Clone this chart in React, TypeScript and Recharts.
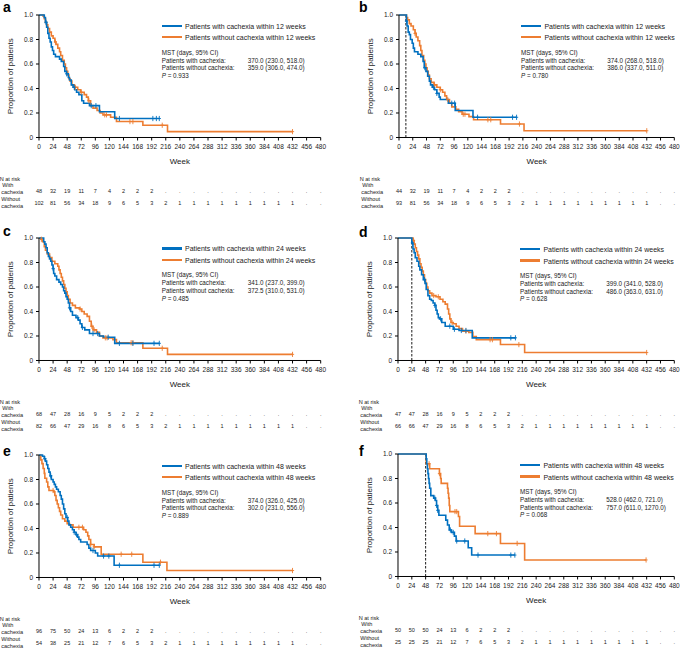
import React from "react";
import { ComposedChart, Line, Scatter, XAxis, YAxis, ReferenceLine } from "recharts";

type Pt = [number, number];

const BLUE = "#0070C0";
const ORANGE = "#ED7D31";
const FONT = '"Liberation Sans", Arial, Helvetica, sans-serif';
const INK = "#1a1a1a";

const weekTicks = [0, 24, 48, 72, 96, 120, 144, 168, 192, 216, 240, 264, 288, 312, 336, 360, 384, 408, 432, 456, 480];
const propTicks = [0, 0.2, 0.4, 0.6, 0.8, 1];

// ---- panel a : 12 weeks, all patients
const aWith: Pt[] = [[0, 1], [9, 0.98], [11, 0.94], [13, 0.9], [15, 0.85], [17, 0.81], [19, 0.78], [21, 0.74], [23, 0.71], [25, 0.68], [28, 0.66], [35, 0.64], [38, 0.62], [42, 0.58], [44, 0.54], [47, 0.52], [50, 0.49], [52, 0.47], [55, 0.43], [58, 0.41], [61, 0.39], [64, 0.37], [68, 0.35], [73, 0.3], [76, 0.28], [86, 0.26], [103, 0.21], [129, 0.155]];
const aWithCens = [12, 47, 60, 89, 97, 137, 194, 200, 205];
const aWithout: Pt[] = [[0, 1], [7, 0.99], [9, 0.97], [11, 0.94], [13, 0.92], [15, 0.89], [18, 0.86], [21, 0.83], [24, 0.81], [27, 0.78], [29, 0.76], [32, 0.73], [35, 0.7], [37, 0.67], [40, 0.63], [43, 0.6], [45, 0.57], [47, 0.54], [49, 0.51], [51, 0.48], [53, 0.46], [56, 0.43], [60, 0.41], [66, 0.39], [71, 0.37], [77, 0.35], [81, 0.33], [84, 0.3], [88, 0.26], [92, 0.24], [99, 0.22], [104, 0.2], [109, 0.185], [122, 0.165], [132, 0.13], [177, 0.1], [219, 0.048]];
const aWithoutCens = [28, 62, 72, 85, 112, 115, 155, 160, 210, 432];
const aRiskWith = [48, 32, 19, 11, 7, 4, 2, 2, 2];
const aRiskWithout = [102, 81, 56, 34, 18, 9, 6, 5, 3, 2, 1, 1, 1, 1, 1, 1, 1, 1, 1];

// ---- panel b : 12 weeks, landmark
const bWith: Pt[] = [[0, 1], [13, 0.95], [14, 0.91], [16, 0.86], [18, 0.84], [20, 0.8], [23, 0.77], [25, 0.73], [27, 0.7], [33, 0.68], [38, 0.66], [42, 0.62], [44, 0.57], [47, 0.54], [50, 0.5], [53, 0.46], [55, 0.43], [58, 0.41], [62, 0.39], [66, 0.36], [70, 0.33], [72, 0.31], [86, 0.28], [98, 0.22], [129, 0.165]];
const bWithCens = [13, 45, 60, 66, 92, 97, 137, 198, 205];
const bWithout: Pt[] = [[0, 1], [13, 0.98], [15, 0.96], [18, 0.93], [21, 0.91], [25, 0.88], [28, 0.85], [30, 0.82], [33, 0.79], [36, 0.75], [38, 0.71], [40, 0.67], [43, 0.63], [45, 0.6], [47, 0.57], [49, 0.54], [51, 0.51], [53, 0.48], [56, 0.45], [61, 0.43], [66, 0.41], [72, 0.39], [76, 0.37], [80, 0.34], [83, 0.31], [88, 0.28], [92, 0.25], [99, 0.23], [104, 0.21], [110, 0.19], [122, 0.17], [130, 0.145], [177, 0.11], [218, 0.055]];
const bWithoutCens = [28, 62, 72, 85, 112, 115, 155, 160, 210, 432];
const bRiskWith = [44, 32, 19, 11, 7, 4, 2, 2, 2];
const bRiskWithout = [93, 81, 56, 34, 18, 9, 6, 5, 3, 2, 1, 1, 1, 1, 1, 1, 1, 1, 1];

// ---- panel c : 24 weeks, all patients
const cWith: Pt[] = [[0, 1], [8, 0.97], [10, 0.95], [12, 0.92], [14, 0.88], [16, 0.85], [18, 0.83], [20, 0.81], [22, 0.78], [24, 0.75], [25, 0.71], [27, 0.69], [30, 0.66], [34, 0.64], [37, 0.62], [40, 0.6], [42, 0.57], [44, 0.55], [46, 0.52], [48, 0.5], [50, 0.47], [52, 0.43], [54, 0.4], [57, 0.37], [63, 0.35], [67, 0.33], [70, 0.3], [73, 0.27], [78, 0.25], [86, 0.22], [103, 0.2], [110, 0.19], [129, 0.14]];
const cWithCens = [24, 52, 66, 74, 92, 100, 118, 137, 160, 196, 205];
const cWithout: Pt[] = [[0, 1], [3, 0.99], [6, 0.97], [9, 0.93], [11, 0.9], [14, 0.87], [18, 0.84], [22, 0.81], [27, 0.79], [32, 0.77], [34, 0.74], [36, 0.71], [38, 0.68], [40, 0.65], [42, 0.62], [44, 0.59], [46, 0.56], [48, 0.53], [50, 0.5], [53, 0.47], [57, 0.45], [62, 0.43], [69, 0.42], [73, 0.4], [77, 0.38], [82, 0.36], [86, 0.32], [89, 0.28], [92, 0.25], [98, 0.23], [103, 0.2], [109, 0.185], [126, 0.17], [132, 0.145], [177, 0.1], [219, 0.05]];
const cWithoutCens = [4, 70, 90, 94, 113, 116, 157, 160, 210, 432];
const cRiskWith = [68, 47, 28, 16, 9, 5, 2, 2, 2];
const cRiskWithout = [82, 66, 47, 29, 16, 8, 6, 5, 3, 2, 1, 1, 1, 1, 1, 1, 1, 1, 1];

// ---- panel d : 24 weeks, landmark
const dWith: Pt[] = [[0, 1], [24, 0.96], [26, 0.91], [28, 0.88], [30, 0.84], [33, 0.81], [36, 0.77], [38, 0.74], [41, 0.7], [44, 0.66], [47, 0.63], [49, 0.58], [52, 0.53], [55, 0.5], [58, 0.49], [61, 0.47], [64, 0.45], [66, 0.41], [68, 0.38], [70, 0.35], [72, 0.34], [76, 0.31], [82, 0.28], [96, 0.255], [106, 0.245], [129, 0.185]];
const dWithCens = [25, 46, 64, 74, 90, 98, 110, 118, 196, 204];
const dWithout: Pt[] = [[0, 1], [26, 0.98], [28, 0.95], [30, 0.92], [32, 0.89], [34, 0.86], [36, 0.83], [38, 0.79], [40, 0.76], [42, 0.73], [44, 0.7], [46, 0.66], [48, 0.63], [50, 0.6], [52, 0.57], [55, 0.55], [59, 0.53], [66, 0.52], [73, 0.5], [78, 0.48], [82, 0.46], [86, 0.42], [88, 0.38], [90, 0.34], [92, 0.31], [96, 0.3], [101, 0.28], [106, 0.26], [112, 0.24], [123, 0.23], [130, 0.195], [136, 0.17], [178, 0.13], [220, 0.065]];
const dWithoutCens = [27, 62, 70, 94, 118, 160, 164, 210, 432];
const dRiskWith = [47, 47, 28, 16, 9, 5, 2, 2, 2];
const dRiskWithout = [66, 66, 47, 29, 16, 8, 6, 5, 3, 2, 1, 1, 1, 1, 1, 1, 1, 1, 1];

// ---- panel e : 48 weeks, all patients
const eWith: Pt[] = [[0, 1], [6, 0.99], [9, 0.97], [11, 0.95], [13, 0.92], [15, 0.89], [17, 0.86], [19, 0.83], [21, 0.8], [24, 0.78], [26, 0.76], [28, 0.74], [30, 0.72], [33, 0.7], [36, 0.67], [38, 0.64], [40, 0.6], [42, 0.56], [44, 0.52], [46, 0.49], [49, 0.46], [51, 0.43], [54, 0.41], [57, 0.39], [60, 0.37], [63, 0.35], [66, 0.33], [68, 0.31], [71, 0.29], [82, 0.27], [85, 0.24], [88, 0.22], [96, 0.2], [100, 0.175], [128, 0.1]];
const eWithCens = [10, 20, 48, 60, 64, 92, 110, 119, 137, 196, 205];
const eWithout: Pt[] = [[0, 1], [3, 0.96], [5, 0.93], [7, 0.89], [9, 0.85], [10, 0.81], [13, 0.78], [15, 0.74], [17, 0.71], [25, 0.7], [27, 0.67], [29, 0.63], [31, 0.6], [33, 0.57], [35, 0.54], [37, 0.51], [40, 0.48], [44, 0.46], [48, 0.44], [52, 0.43], [58, 0.41], [76, 0.39], [80, 0.37], [83, 0.34], [85, 0.31], [88, 0.27], [94, 0.25], [106, 0.19], [177, 0.125], [218, 0.057]];
const eWithoutCens = [24, 68, 74, 88, 94, 140, 158, 207, 432];
const eRiskWith = [96, 75, 50, 24, 13, 6, 2, 2, 2];
const eRiskWithout = [54, 38, 25, 21, 12, 7, 6, 5, 3, 2, 1, 1, 1, 1, 1, 1, 1, 1, 1];

// ---- panel f : 48 weeks, landmark
const fWith: Pt[] = [[0, 1], [49, 0.96], [50, 0.92], [51, 0.88], [52, 0.84], [53, 0.8], [54, 0.76], [55, 0.72], [57, 0.66], [62, 0.64], [65, 0.62], [67, 0.58], [69, 0.54], [71, 0.5], [83, 0.46], [86, 0.42], [89, 0.38], [93, 0.36], [98, 0.33], [101, 0.29], [122, 0.235], [128, 0.175]];
const fWithCens = [64, 67, 69, 91, 96, 102, 116, 139, 196, 203];
const fWithout: Pt[] = [[0, 1], [49, 0.92], [55, 0.88], [72, 0.84], [74, 0.8], [75, 0.76], [86, 0.72], [87, 0.68], [88, 0.64], [89, 0.58], [90, 0.53], [105, 0.49], [107, 0.41], [134, 0.35], [178, 0.27], [220, 0.135]];
const fWithoutCens = [54, 72, 99, 102, 156, 171, 207, 431];
const fRiskWith = [50, 50, 50, 24, 13, 6, 2, 2, 2];
const fRiskWithout = [25, 25, 25, 21, 12, 7, 6, 5, 3, 2, 1, 1, 1, 1, 1, 1, 1, 1, 1];

const mstWith = ["370.0 (230.0, 518.0)", "374.0 (268.0, 518.0)", "341.0 (237.0, 399.0)", "399.0 (341.0, 528.0)", "374.0 (326.0, 425.0)", "528.0 (462.0, 721.0)"];
const mstWithout = ["359.0 (306.0, 474.0)", "386.0 (337.0, 511.0)", "372.5 (310.0, 531.0)", "486.0 (363.0, 631.0)", "302.0 (231.0, 556.0)", "757.0 (611.0, 1270.0)"];
const pValues = ["0.933", "0.780", "0.485", "0.628", "0.889", "0.068"];

const PLOT_H = 122.5;

function stepData(pts: Pt[], cens: number[]) {
  const out = pts.map(([t, s]) => ({ t, s }));
  const last = pts[pts.length - 1];
  out.push({ t: Math.max(last[0], ...cens), s: last[1] });
  return out;
}

function censData(pts: Pt[], cens: number[]) {
  return cens.map((t) => {
    let s = 1;
    for (const [pt, ps] of pts) if (pt <= t) s = ps;
    return { t, s };
  });
}

const censorShape = (color: string) => (p: any) => (
  <g>
    <line x1={p.cx} x2={p.cx} y1={p.cy - 2.6} y2={p.cy + 2.6} stroke={color} strokeWidth={0.9} />
    <line x1={p.cx - 1.6} x2={p.cx + 1.6} y1={p.cy} y2={p.cy} stroke={color} strokeWidth={0.9} />
  </g>
);

function WeekTick(props: any) {
  const { x, y, payload, riskWith, riskWithout } = props;
  const axisY = y - 5;
  const i = Math.round(payload.value / 24);
  const r1 = riskWith[i] !== undefined ? String(riskWith[i]) : ".";
  const r2 = riskWithout[i] !== undefined ? String(riskWithout[i]) : ".";
  const lab = { fontSize: 5.6, fill: INK };
  return (
    <g>
      <text x={x} y={axisY + 9} dy="0.35em" textAnchor="middle" fontSize={6.5} fill={INK}>
        {payload.value}
      </text>
      <text x={x} y={axisY + 53.5} dy="0.35em" textAnchor="middle" fontSize={5.5} fill={INK}>{r1}</text>
      <text x={x} y={axisY + 65.5} dy="0.35em" textAnchor="middle" fontSize={5.5} fill={INK}>{r2}</text>
      {payload.value === 0 && (
        <g {...lab}>
          <text x={x - 39.3} y={axisY + 41.5} dy="0.35em">N at risk</text>
          <text x={x - 36.8} y={axisY + 47.5} dy="0.35em">With</text>
          <text x={x - 37.8} y={axisY + 55} dy="0.35em">cachexia</text>
          <text x={x - 37.8} y={axisY + 61.5} dy="0.35em">Without</text>
          <text x={x - 37.8} y={axisY + 68.5} dy="0.35em">cachexia</text>
        </g>
      )}
    </g>
  );
}

interface PanelCfg {
  letter: string;
  lx: number;
  ly: number;
  left: number;
  top: number;
  w: number;
  landmark: number | null;
  weeks: number;
  withPts: Pt[];
  withCens: number[];
  withoutPts: Pt[];
  withoutCens: number[];
  riskWith: number[];
  riskWithout: number[];
  idx: number;
}

const panels: PanelCfg[] = [
  { letter: "a", lx: 3, ly: 0, left: 39.3, top: 15, w: 281.7, landmark: null, weeks: 12, withPts: aWith, withCens: aWithCens, withoutPts: aWithout, withoutCens: aWithoutCens, riskWith: aRiskWith, riskWithout: aRiskWithout, idx: 0 },
  { letter: "b", lx: 359, ly: 0, left: 398.7, top: 15, w: 275.3, landmark: 12, weeks: 12, withPts: bWith, withCens: bWithCens, withoutPts: bWithout, withoutCens: bWithoutCens, riskWith: bRiskWith, riskWithout: bRiskWithout, idx: 1 },
  { letter: "c", lx: 3, ly: 224, left: 39.3, top: 237.7, w: 281.7, landmark: null, weeks: 24, withPts: cWith, withCens: cWithCens, withoutPts: cWithout, withoutCens: cWithoutCens, riskWith: cRiskWith, riskWithout: cRiskWithout, idx: 2 },
  { letter: "d", lx: 359, ly: 224.5, left: 397.7, top: 238.3, w: 276.3, landmark: 24, weeks: 24, withPts: dWith, withCens: dWithCens, withoutPts: dWithout, withoutCens: dWithoutCens, riskWith: dRiskWith, riskWithout: dRiskWithout, idx: 3 },
  { letter: "e", lx: 3, ly: 444, left: 39.3, top: 455, w: 281.7, landmark: null, weeks: 48, withPts: eWith, withCens: eWithCens, withoutPts: eWithout, withoutCens: eWithoutCens, riskWith: eRiskWith, riskWithout: eRiskWithout, idx: 4 },
  { letter: "f", lx: 359, ly: 443.5, left: 397.7, top: 454.3, w: 276.3, landmark: 48, weeks: 48, withPts: fWith, withCens: fWithCens, withoutPts: fWithout, withoutCens: fWithoutCens, riskWith: fRiskWith, riskWithout: fRiskWithout, idx: 5 },
];

function TextRow({ x, y, size, children, style }: any) {
  return (
    <div style={{ position: "absolute", left: x, top: y, transform: "translateY(-50%)", fontSize: size, lineHeight: 1, whiteSpace: "nowrap", color: INK, ...style }}>
      {children}
    </div>
  );
}

function Panel({ cfg }: { cfg: PanelCfg }) {
  const W = 42 + cfg.w + 10;
  const H = 8 + PLOT_H + 75;
  const L = cfg.left;
  const T = cfg.top;
  return (
    <>
      <div style={{ position: "absolute", left: L - 42, top: T - 8 }}>
        <ComposedChart width={W} height={H} margin={{ top: 8, right: 10, bottom: 0, left: 0 }}>
          <XAxis
            type="number"
            dataKey="t"
            domain={[0, 480]}
            ticks={weekTicks}
            interval={0}
            height={75}
            tickSize={3}
            tickMargin={2}
            axisLine={{ stroke: "#000", strokeWidth: 1 }}
            tickLine={{ stroke: "#000", strokeWidth: 1 }}
            tick={(p: any) => <WeekTick {...p} riskWith={cfg.riskWith} riskWithout={cfg.riskWithout} />}
            label={{ value: "Week", position: "insideTop", offset: 21, fontSize: 8, fill: INK }}
          />
          <YAxis
            type="number"
            dataKey="s"
            domain={[0, 1]}
            ticks={propTicks}
            width={42}
            tickSize={3}
            tickMargin={3}
            axisLine={{ stroke: "#000", strokeWidth: 1 }}
            tickLine={{ stroke: "#000", strokeWidth: 1 }}
            tick={{ fontSize: 6.5, fill: INK }}
            tickFormatter={(v: number) => (v === 0 ? "0" : v.toFixed(1))}
            label={{ value: "Proportion of patients", angle: -90, position: "insideLeft", offset: 13.4, fontSize: 8, fill: INK, style: { textAnchor: "middle" } }}
          />
          {cfg.landmark !== null && (
            <ReferenceLine x={cfg.landmark} stroke="#000" strokeWidth={0.9} strokeDasharray="2.5 1.5" />
          )}
          <Line data={stepData(cfg.withoutPts, cfg.withoutCens)} dataKey="s" type="stepAfter" stroke={ORANGE} strokeWidth={1.6} dot={false} activeDot={false} isAnimationActive={false} />
          <Scatter data={censData(cfg.withoutPts, cfg.withoutCens)} dataKey="s" shape={censorShape(ORANGE)} isAnimationActive={false} />
          <Line data={stepData(cfg.withPts, cfg.withCens)} dataKey="s" type="stepAfter" stroke={BLUE} strokeWidth={1.6} dot={false} activeDot={false} isAnimationActive={false} />
          <Scatter data={censData(cfg.withPts, cfg.withCens)} dataKey="s" shape={censorShape(BLUE)} isAnimationActive={false} />
        </ComposedChart>
      </div>
      <div style={{ position: "absolute", left: cfg.lx, top: cfg.ly, fontSize: 14, fontWeight: "bold", lineHeight: "14px", color: "#000" }}>
        {cfg.letter}
      </div>
      {[BLUE, ORANGE].map((c, k) => (
        <div key={c} style={{ position: "absolute", left: L + 122.4, top: T + (k === 0 ? 10.7 : 22.3) - 1.2, width: 20, height: 2.4, background: c }} />
      ))}
      <TextRow x={L + 145.7} y={T + 10.7} size={7}>Patients with cachexia within {cfg.weeks} weeks</TextRow>
      <TextRow x={L + 145.7} y={T + 22.3} size={7}>Patients without cachexia within {cfg.weeks} weeks</TextRow>
      <TextRow x={L + 122.4} y={T + 37.7} size={6.3}>MST (days, 95% CI)</TextRow>
      <TextRow x={L + 122.4} y={T + 45.5} size={6.3}>Patients with cachexia:</TextRow>
      <TextRow x={L + 208.5} y={T + 45.5} size={6.3}>{mstWith[cfg.idx]}</TextRow>
      <TextRow x={L + 122.4} y={T + 53.3} size={6.3}>Patients without cachexia:</TextRow>
      <TextRow x={L + 208.5} y={T + 53.3} size={6.3}>{mstWithout[cfg.idx]}</TextRow>
      <TextRow x={L + 122.4} y={T + 61} size={6.3}>
        <i>P</i> = {pValues[cfg.idx]}
      </TextRow>
    </>
  );
}

export default function App() {
  return (
    <div style={{ position: "absolute", left: 0, top: 0, width: 682, height: 648, overflow: "hidden", background: "#fff", fontFamily: FONT }}>
      {panels.map((p) => (
        <Panel key={p.letter} cfg={p} />
      ))}
    </div>
  );
}
